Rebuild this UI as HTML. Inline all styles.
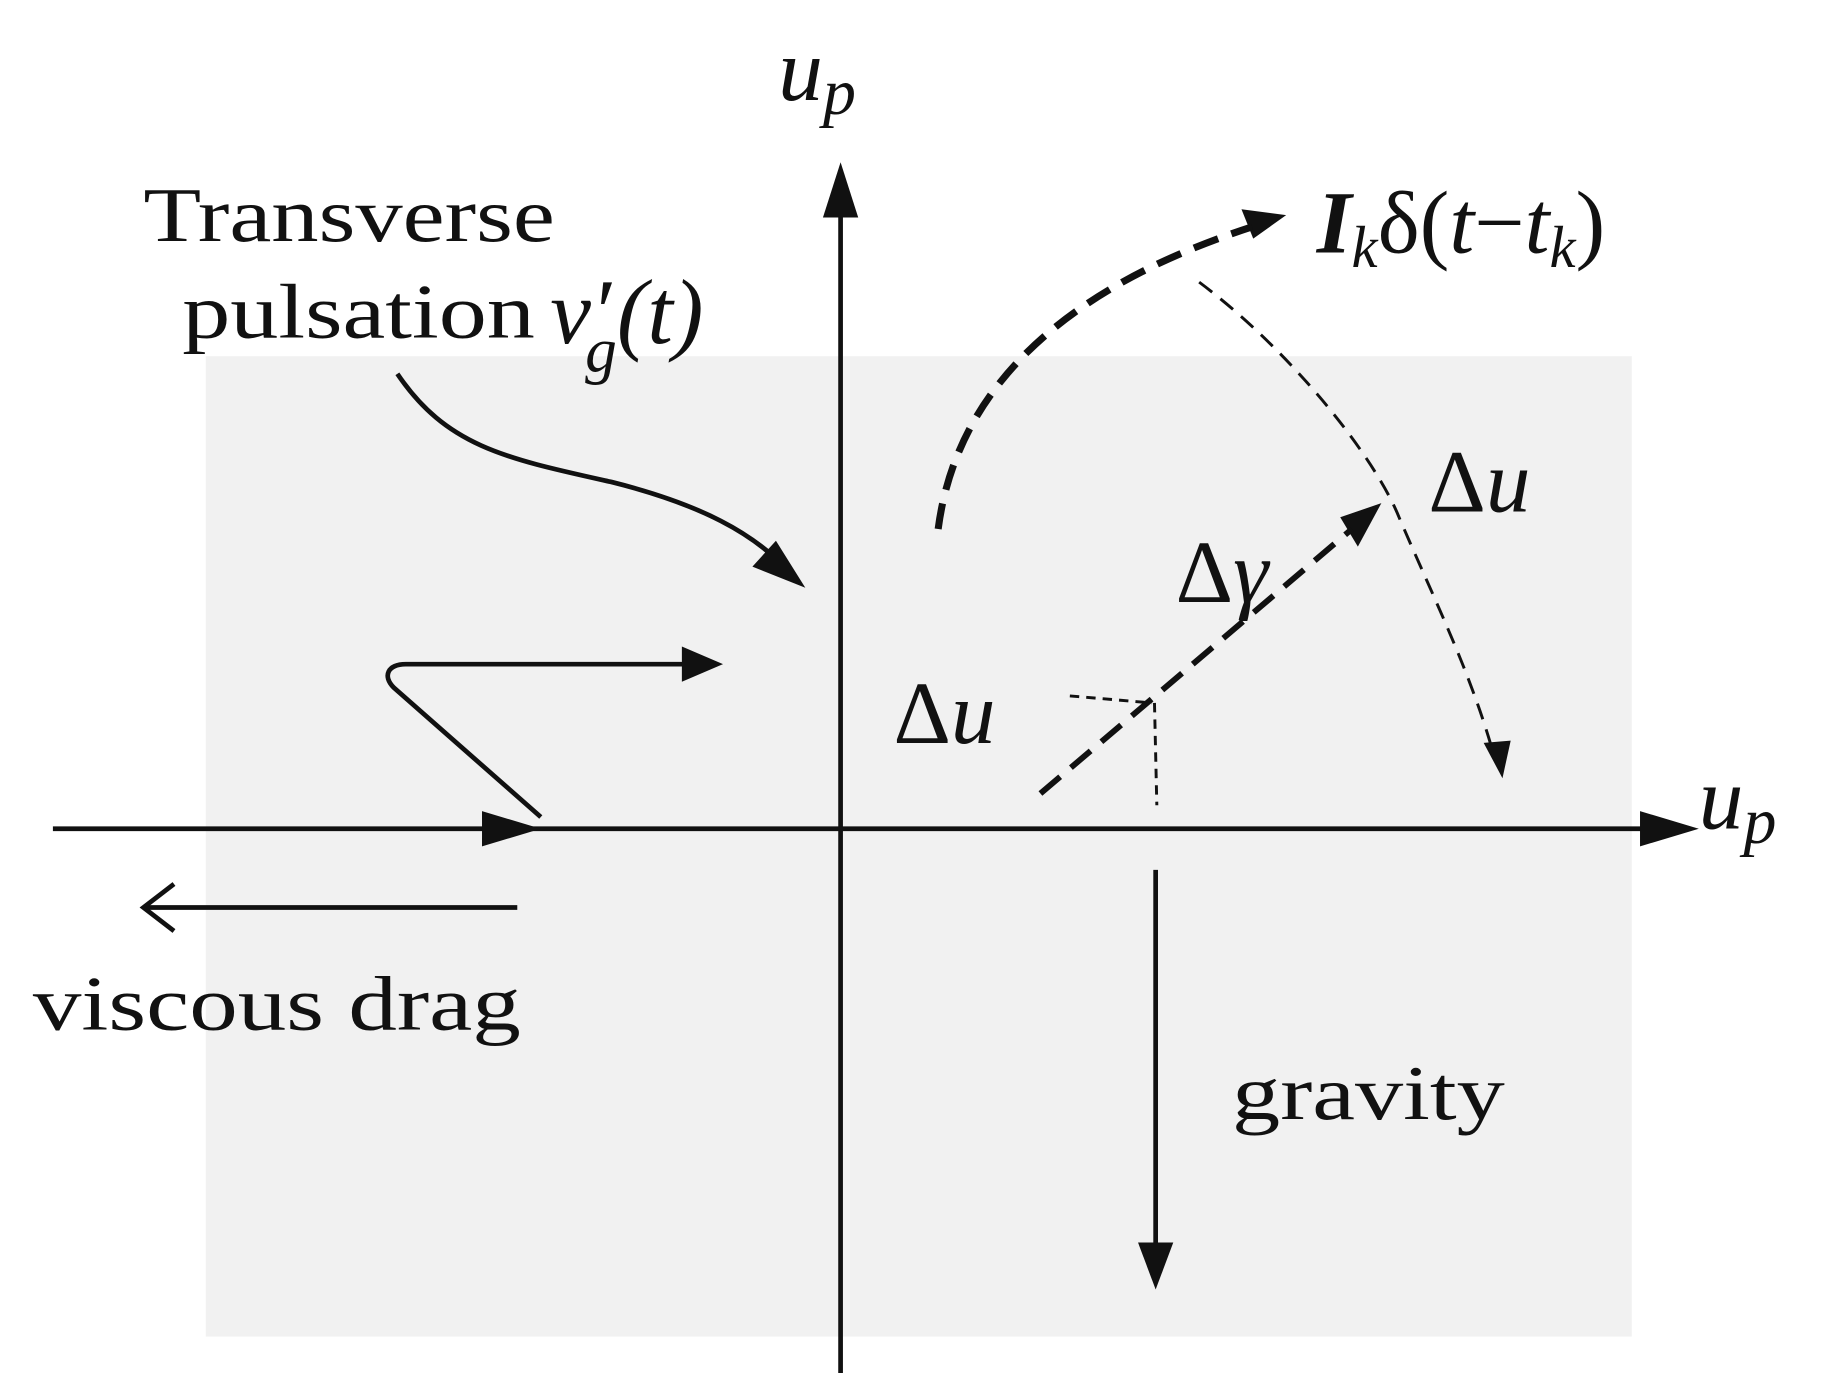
<!DOCTYPE html>
<html><head><meta charset="utf-8"><style>html,body{margin:0;padding:0;background:#fff}svg{display:block}</style></head>
<body>
<svg width="1834" height="1393" viewBox="0 0 1560 1185" preserveAspectRatio="none" xmlns="http://www.w3.org/2000/svg">
<rect x="175" y="303" width="1213" height="834" fill="#f1f1f1"/>
<g stroke="#111" stroke-width="4" fill="none">
<line x1="715" y1="1168" x2="715" y2="170"/>
<line x1="45" y1="705" x2="1410" y2="705"/>
<path d="M338,318 C380,380 430,390 520,410 C600,430 640,455 665,480"/>
<path d="M460,695 L335,585 C325,575 330,565 345,565 L590,565"/>
<line x1="440" y1="772" x2="125" y2="772"/>
<path d="M148,752 L122,772 L148,792" stroke-width="4"/>
<line x1="983" y1="740" x2="983" y2="1070"/>
</g>
<g fill="#111">
<polygon points="715,138 700,185 730,185"/>
<polygon points="1445,705 1395,690 1395,720"/>
<polygon points="685,500 640,482 660,460"/>
<polygon points="615,565 580,550 580,580"/>
<polygon points="460,705 410,690 410,720"/>
<polygon points="983,1097 968,1057 998,1057"/>
<polygon points="1094,183 1056,178 1066,203"/>
<polygon points="1278,662 1262,632 1285,630"/>
<polygon points="1175,428 1140,440 1155,465"/>
</g>
<g stroke="#111" fill="none" stroke-dasharray="22,12">
<path d="M798,450 C815,320 920,240 1065,193" stroke-width="6"/>
<path d="M1020,240 C1100,300 1170,390 1190,440 C1220,510 1250,570 1270,640" stroke-width="2.5" stroke-dasharray="14,9"/>
<line x1="885" y1="675" x2="1150" y2="450" stroke-width="5"/>
</g>
<g stroke="#111" stroke-width="2.5" fill="none" stroke-dasharray="8,6">
<line x1="910" y1="592" x2="980" y2="598"/>
<line x1="982" y1="598" x2="984" y2="685"/>
</g>
<g font-family="Liberation Serif, serif" fill="#111">
<text x="662" y="85" font-size="76" font-style="italic">u<tspan font-size="56" dy="12">p</tspan></text>
<text x="1445" y="705" font-size="76" font-style="italic">u<tspan font-size="56" dy="12">p</tspan></text>
<text x="122" y="205" font-size="66" textLength="350" lengthAdjust="spacingAndGlyphs">Transverse</text>
<text x="155" y="287" font-size="66" textLength="300" lengthAdjust="spacingAndGlyphs">pulsation</text>
<text x="468" y="292" font-size="78" font-style="italic">v′<tspan font-size="54" dy="24" dx="-22">g</tspan><tspan dy="-24">(t)</tspan></text>
<text x="1120" y="215" font-size="76"><tspan font-style="italic" font-weight="bold">I</tspan><tspan font-size="50" dy="12" font-style="italic">k</tspan><tspan dy="-12">δ(</tspan><tspan font-style="italic">t</tspan>−<tspan font-style="italic">t</tspan><tspan font-size="50" dy="12" font-style="italic">k</tspan><tspan dy="-12">)</tspan></text>
<text x="1215" y="435" font-size="76">Δ<tspan font-style="italic">u</tspan></text>
<text x="1000" y="512" font-size="76">Δ<tspan font-style="italic">γ</tspan></text>
<text x="760" y="632" font-size="76">Δ<tspan font-style="italic">u</tspan></text>
<text x="28" y="876" font-size="66" textLength="415" lengthAdjust="spacingAndGlyphs">viscous drag</text>
<text x="1048" y="952" font-size="66" textLength="232" lengthAdjust="spacingAndGlyphs">gravity</text>
</g>
</svg>
</body></html>
